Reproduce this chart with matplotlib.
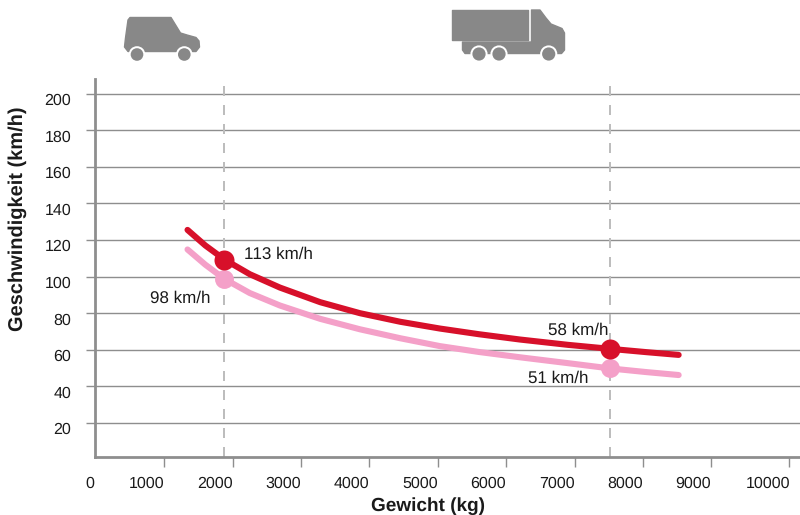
import matplotlib
matplotlib.use("Agg")
import matplotlib.pyplot as plt
from matplotlib.path import Path
from matplotlib.patches import PathPatch, Circle
from matplotlib.transforms import ScaledTranslation

plt.rcParams['font.family'] = ['Liberation Sans', 'DejaVu Sans']
plt.rcParams['text.hinting'] = 'no_hinting'
plt.rcParams['text.hinting_factor'] = 1

# --- data ---
weight_kg = [1340, 1600, 1880, 2250, 2690, 3280, 3860, 4450, 5030, 5600, 6200, 6900, 7520, 8050, 8520]
speed_red = [125.5, 117, 109.3, 101.3, 94, 86, 80, 75.3, 71.6, 68.5, 65.6, 62.7, 60.5, 58.7, 57.2]
speed_pink = [114.8, 106.5, 98.7, 91, 84.2, 76.9, 71.2, 66.3, 62, 58.8, 55.9, 52.7, 49.8, 47.8, 46.2]
marker_weight = [1880, 7520]
marker_red = [109.3, 60.5]
marker_pink = [98.7, 49.8]
annotations = ["113 km/h", "98 km/h", "58 km/h", "51 km/h"]
annotation_x = [2171, 1674, 7493, 7200]
annotation_y = [112, 88, 70.5, 44.5]
annotation_ha = ["left", "right", "right", "right"]
y_ticks = [20, 40, 60, 80, 100, 120, 140, 160, 180, 200]
x_ticks = [0, 1000, 2000, 3000, 4000, 5000, 6000, 7000, 8000, 9000, 10133]
x_tick_labels = ["0", "1000", "2000", "3000", "4000", "5000", "6000", "7000", "8000", "9000", "10000"]
x_label_shift_px = [-6, -18, -18, -18, -18, -18, -18, -18, -18, -18, -21]

RED = "#D7102A"
PINK = "#F4A0C8"
GRAY = "#8E8E8E"
DASH = "#BDBDBD"
INK = "#1A1A1A"
ICON = "#888888"

W, H = 800, 515
fig = plt.figure(figsize=(W / 100, H / 100), dpi=100)
left, right, top, bottom = 94.5, 800, 79, 457.3
ax = fig.add_axes([left / W, 1 - bottom / H, (right - left) / W, (bottom - top) / H])
ax.set_xlim(-20, 10294)
ax.set_ylim(1.25, 207.95)
for s in ("top", "right"):
    ax.spines[s].set_visible(False)
for s in ("left", "bottom"):
    ax.spines[s].set_color(GRAY)
    ax.spines[s].set_linewidth(2.0)

ax.set_yticks(y_ticks)
ax.set_xticks(x_ticks)
ax.set_xticklabels(x_tick_labels)
ax.grid(axis="y", color=GRAY, lw=1.0)
ax.set_axisbelow(True)
ax.tick_params(axis="y", length=6.8, width=1.0, color=GRAY, pad=10, labelsize=11.2, labelcolor=INK)
ax.tick_params(axis="x", length=7.2, width=1.0, color=GRAY, pad=6.5, labelsize=11.2, labelcolor=INK)

for lbl in ax.get_yticklabels():
    lbl.set_transform(lbl.get_transform() + ScaledTranslation(0, -5.5 / 100, fig.dpi_scale_trans))
for lbl, dx in zip(ax.get_xticklabels(), x_label_shift_px):
    lbl.set_transform(lbl.get_transform() + ScaledTranslation(dx / 100, 0, fig.dpi_scale_trans))
ax.xaxis.get_major_ticks()[0].tick1line.set_visible(False)

for xv in marker_weight:
    ax.axvline(xv, color=DASH, lw=1.44, dashes=(5, 4.5), zorder=1.5)

ax.plot(weight_kg, speed_pink, color=PINK, lw=4.4, solid_capstyle="round", solid_joinstyle="round", zorder=3)
ax.plot(weight_kg, speed_red, color=RED, lw=4.4, solid_capstyle="round", solid_joinstyle="round", zorder=4)
ax.plot(marker_weight, marker_pink, "o", color=PINK, ms=13.6, mew=0, zorder=3.5)
ax.plot(marker_weight, marker_red, "o", color=RED, ms=14.4, mew=0, zorder=5)

for t, xv, yv, ha in zip(annotations, annotation_x, annotation_y, annotation_ha):
    ax.text(xv, yv, t, ha=ha, va="center", fontsize=12.2, color=INK, zorder=6)

fig.text(428 / W, 1 - 506.5 / H, "Gewicht (kg)", ha="center", va="center",
         fontsize=13.6, fontweight="bold", color=INK)
fig.text(17.5 / W, 1 - 219 / H, "Geschwindigkeit (km/h)", ha="center", va="center",
         rotation=90, fontsize=14.2, fontweight="bold", color=INK)

# --- vehicle pictograms (pixel overlay) ---
ov = fig.add_axes([0, 0, 1, 1], facecolor="none")
ov.set_xlim(0, W)
ov.set_ylim(H, 0)
ov.axis("off")


def shape(points, fc=ICON):
    verts = list(points) + [points[0]]
    codes = [Path.MOVETO] + [Path.LINETO] * (len(points) - 1) + [Path.CLOSEPOLY]
    ov.add_patch(PathPatch(Path(verts, codes), fc=fc, ec=fc, lw=1.0, joinstyle="round"))


def wheel(cx, cy, r):
    ov.add_patch(Circle((cx, cy), r + 2.0, fc="white", ec="none"))
    ov.add_patch(Circle((cx, cy), r, fc=ICON, ec="none"))


car = [(130, 17.5), (171, 17.5), (180.5, 33), (187, 35), (196, 37.5), (199, 41), (199.5, 47), (196, 51.5),
       (128, 51.5), (124.5, 47), (125.5, 38), (128, 20)]
shape(car)
wheel(137, 54.5, 6.3)
wheel(184.3, 54.5, 6.3)

cab = [(531.5, 10), (540, 10), (546, 18), (551, 24), (562, 28.5), (564.5, 33), (564.5, 50), (561.5, 53.5),
       (465, 53.5), (462.5, 50), (462.5, 42), (531.5, 42)]
shape(cab)
box = [(452, 10), (528, 10), (528, 39.5), (452, 39.5)]
shape(box)
wheel(479, 54, 6.6)
wheel(499, 54, 6.6)
wheel(548.7, 54, 6.6)

fig.savefig("out.png", dpi=100)
